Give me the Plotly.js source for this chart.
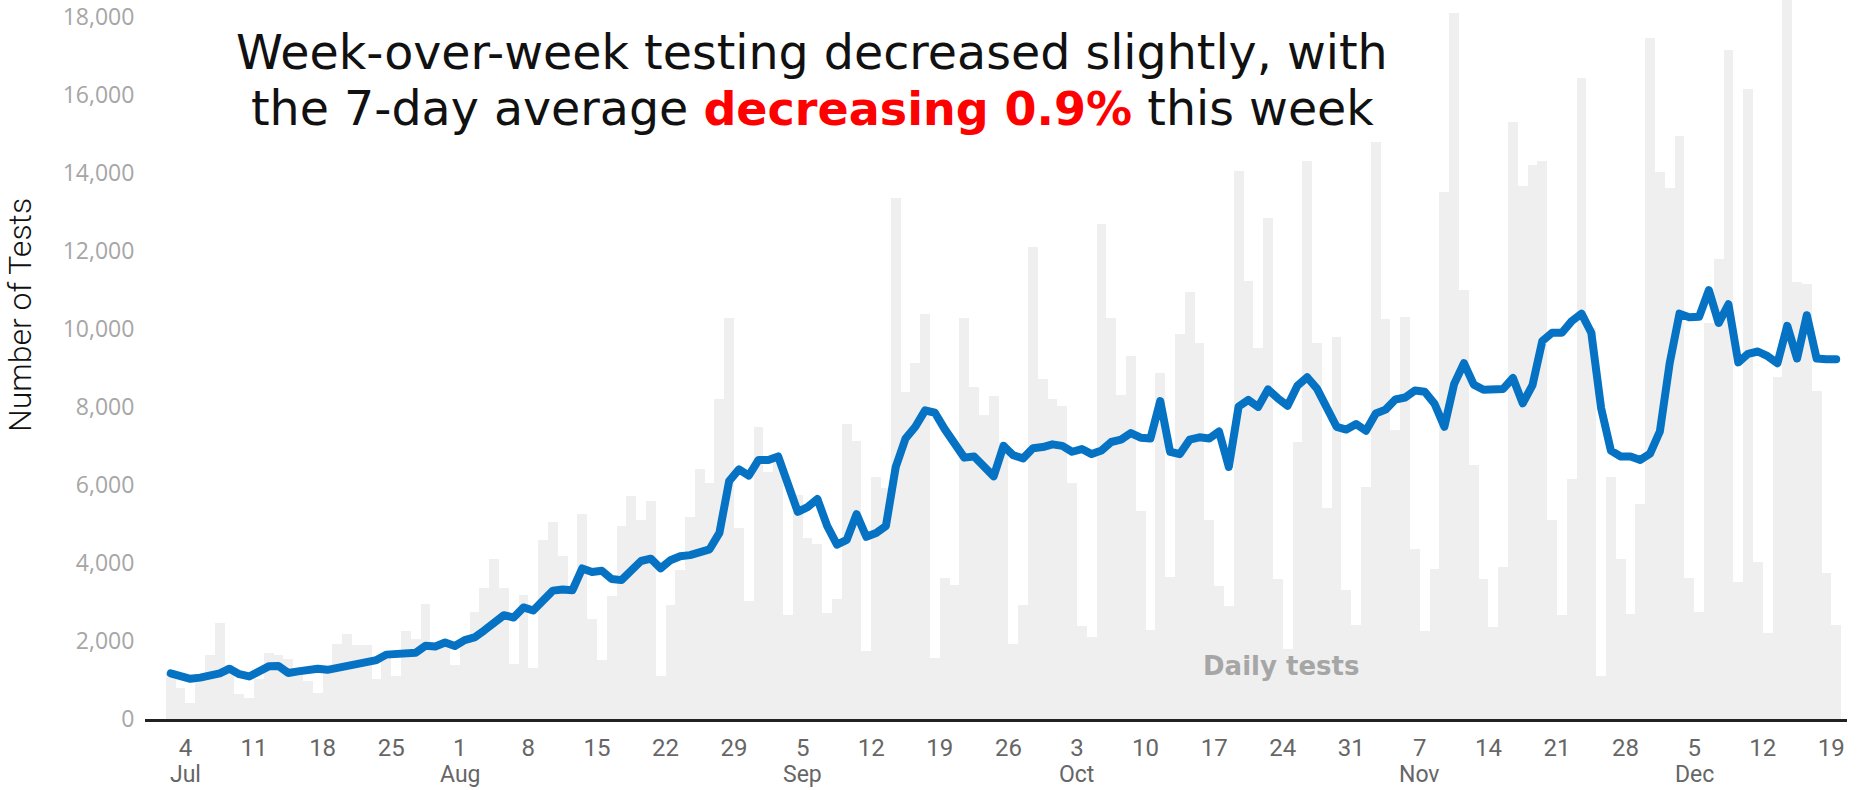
<!DOCTYPE html>
<html>
<head>
<meta charset="utf-8">
<script src="https://cdn.plot.ly/plotly-3.0.1.min.js"></script>
<style>
  html, body { margin: 0; padding: 0; background: #ffffff; }
  #chart { width: 1864px; height: 790px; }
</style>
</head>
<body>
<div id="chart"></div>
<script>
// ---- Data ----
// First day of the series; one value per consecutive day.
const startDate = [2020, 6, 2]; // 2 July 2020 (month is 0-based)

// Daily tests (grey bars)
const dailyTests = [
  1150, 790, 400, 1030, 1630, 2450, 1390, 640, 540, 1030,
  1690, 1630, 1530, 1210, 970, 660, 1270, 1930, 2170, 1900,
  1900, 1030, 1600, 1100, 2250, 2050, 2960, 1900, 1870, 1390,
  2000, 2740, 3350, 4100, 3350, 1420, 3170, 1300, 4600, 5050,
  4180, 3240, 5260, 2560, 1520, 3150, 4960, 5710, 5100, 5580,
  1100, 2920, 3830, 5180, 6400, 6040, 8210, 10270, 4890, 3020,
  7490, 6340, 6670, 2660, 5750, 4650, 4490, 2720, 3080, 7550,
  7130, 1750, 6200, 5920, 13350, 8390, 9120, 10390, 1570, 3620,
  3440, 10270, 8510, 7790, 8280, 7100, 1930, 2920, 12100, 8720,
  8200, 8020, 6050, 2380, 2100, 12700, 10280, 8300, 9300, 5320,
  2290, 8880, 3630, 9860, 10950, 9650, 5100, 3400, 2900, 14050,
  11230, 9500, 12840, 3600, 1800, 7100, 14300, 9650, 5400, 9800,
  3300, 2400, 5950, 14800, 10250, 7400, 10300, 4350, 2250, 3850,
  13500, 18100, 11000, 6500, 3600, 2350, 3900, 15300, 13650, 14200,
  14300, 5100, 2660, 6160, 16430, 10020, 1090, 6200, 4100, 2700,
  5520, 17450, 14010, 13600, 14950, 3620, 2750, 10150, 11800, 17150,
  3500, 16150, 4030, 2200, 8770, 19000, 11200, 11150, 8400, 3750,
  2400
];

// 7-day average (blue line)
const sevenDayAvg = [
  1170, 1100, 1030, 1060, 1100, 1170, 1290, 1150, 1090, 1240,
  1350, 1360, 1180, 1220, 1260, 1290, 1260, 1320, 1380, 1430,
  1470, 1510, 1650, 1680, 1710, 1700, 1880, 1860, 1960, 1870,
  2020, 2090, 2270, 2460, 2660, 2600, 2860, 2780, 3060, 3290,
  3320, 3300, 3860, 3770, 3800, 3590, 3560, 3780, 4050, 4110,
  3860, 4070, 4170, 4200, 4250, 4350, 4770, 6100, 6400, 6240,
  6640, 6640, 6730, 5950, 5310, 5430, 5640, 4950, 4470, 4590,
  5250, 4670, 4770, 4950, 6460, 7190, 7490, 7910, 7850, 7430,
  7070, 6700, 6730, 6450, 6220, 7000, 6760, 6680, 6940, 6970,
  7040, 7000, 6850, 6920, 6790, 6880, 7100, 7160, 7330, 7210,
  7190, 8150, 6850, 6790, 7160, 7220, 7190, 7370, 6460, 8010,
  8180, 8000, 8450, 8220, 8030, 8540, 8760, 8470, 7920, 7490,
  7420, 7560, 7390, 7830, 7930, 8190, 8240, 8420, 8390, 8080,
  7490, 8590, 9120, 8570, 8440, 8450, 8460, 8740, 8090, 8560,
  9690, 9900, 9900, 10200, 10390, 9900, 7970, 6880, 6730, 6730,
  6640, 6800, 7370, 9120, 10390, 10300, 10310, 10990, 10150, 10630,
  9140, 9360, 9420, 9300, 9120, 10080, 9240, 10350, 9240, 9220,
  9220
];

// X-axis ticks (day numbers) and month labels
const tickDates = [
  '2020-07-04', '2020-07-11', '2020-07-18', '2020-07-25',
  '2020-08-01', '2020-08-08', '2020-08-15', '2020-08-22', '2020-08-29',
  '2020-09-05', '2020-09-12', '2020-09-19', '2020-09-26',
  '2020-10-03', '2020-10-10', '2020-10-17', '2020-10-24', '2020-10-31',
  '2020-11-07', '2020-11-14', '2020-11-21', '2020-11-28',
  '2020-12-05', '2020-12-12', '2020-12-19'
];
const tickLabels = [
  '4', '11', '18', '25', '1', '8', '15', '22', '29', '5', '12', '19', '26',
  '3', '10', '17', '24', '31', '7', '14', '21', '28', '5', '12', '19'
];
const monthDates = ['2020-07-04', '2020-08-01', '2020-09-05', '2020-10-03', '2020-11-07', '2020-12-05'];
const monthLabels = ['Jul', 'Aug', 'Sep', 'Oct', 'Nov', 'Dec'];

// Y-axis ticks
const yTicks = [0, 2000, 4000, 6000, 8000, 10000, 12000, 14000, 16000, 18000];

// ---- Build the day categories (each bar centred at noon of its day) ----
function pad(n) { return (n < 10 ? '0' : '') + n; }
function dayString(offset, hour) {
  const d = new Date(Date.UTC(startDate[0], startDate[1], startDate[2] + offset, hour, 0));
  return d.getUTCFullYear() + '-' + pad(d.getUTCMonth() + 1) + '-' + pad(d.getUTCDate()) +
         ' ' + pad(d.getUTCHours()) + ':' + pad(d.getUTCMinutes());
}
const days = dailyTests.map((_, i) => dayString(i, 12));
const xStart = '2020-06-29 20:53';
const xEnd = '2020-12-20 14:24';

const traces = [
  {
    type: 'bar',
    x: days,
    y: dailyTests,
    marker: { color: '#efefef', line: { width: 0 } },
    hoverinfo: 'x+y',
    name: 'Daily tests'
  },
  {
    type: 'scatter',
    mode: 'lines',
    x: days,
    y: sevenDayAvg,
    line: { color: '#0572c4', width: 8 },
    hoverinfo: 'x+y',
    name: '7-day average'
  }
];

const monthAnnotations = monthDates.map((d, i) => ({
  x: d, xref: 'x', y: 0, yref: 'paper',
  yshift: -41, yanchor: 'top', xanchor: 'center',
  text: monthLabels[i], showarrow: false, borderpad: 0,
  font: { family: 'Liberation Sans Narrow, Roboto, sans-serif', size: 23, color: '#666666' }
}));

const layout = {
  width: 1864,
  height: 790,
  margin: { l: 145, r: 17, t: 0, b: 71, pad: 0 },
  paper_bgcolor: '#ffffff',
  plot_bgcolor: '#ffffff',
  showlegend: false,
  bargap: 0,
  xaxis: {
    type: 'date',
    range: [xStart, xEnd],
    tickmode: 'array',
    tickvals: tickDates,
    ticktext: tickLabels,
    ticks: 'outside',
    ticklen: 6,
    tickcolor: 'rgba(0,0,0,0)',
    showgrid: false,
    zeroline: false,
    showline: true,
    linecolor: '#222222',
    linewidth: 2.5,
    tickfont: { family: 'Liberation Sans Narrow, Roboto, sans-serif', size: 24, color: '#666666' },
    fixedrange: true
  },
  yaxis: {
    range: [0, 18430],
    tickmode: 'array',
    tickvals: yTicks,
    tickformat: ',d',
    ticks: 'outside',
    ticklen: 5,
    tickcolor: 'rgba(0,0,0,0)',
    ticklabeloverflow: 'allow',
    showgrid: false,
    zeroline: false,
    showline: false,
    tickfont: { family: 'Open Sans, sans-serif', size: 23, color: '#a6a6a6' },
    fixedrange: true
  },
  annotations: [
    {
      x: 0.392, xref: 'paper', y: 0.9268, yref: 'paper',
      xanchor: 'center', yanchor: 'middle', showarrow: false,
      text: 'Week-over-week testing decreased slightly, with',
      font: { family: 'DejaVu Sans, sans-serif', size: 47.5, color: '#111111' }
    },
    {
      x: 0.392, xref: 'paper', y: 0.8489, yref: 'paper',
      xanchor: 'center', yanchor: 'middle', showarrow: false,
      text: 'the 7-day average <b><span style="color:#ff0000;font-size:46px">decreasing 0.9%</span></b> this week',
      font: { family: 'DejaVu Sans, sans-serif', size: 47.5, color: '#111111' }
    },
    {
      x: 0.6675, xref: 'paper', y: 0.0737, yref: 'paper',
      xanchor: 'center', yanchor: 'middle', showarrow: false,
      text: '<b>Daily tests</b>',
      font: { family: 'DejaVu Sans, sans-serif', size: 26, color: '#a6a6a6' }
    },
    {
      x: -0.0734, xref: 'paper', y: 0.562, yref: 'paper',
      xanchor: 'center', yanchor: 'middle', showarrow: false,
      textangle: -90,
      text: 'Number of Tests',
      font: { family: 'Roboto, sans-serif', size: 32, weight: 300, color: '#111111' }
    }
  ].concat(monthAnnotations)
};

Plotly.newPlot('chart', traces, layout, { displayModeBar: false, staticPlot: true }).then(() => {
  document.querySelectorAll('.scatterlayer .js-line').forEach(p => {
    p.style.strokeLinecap = 'round';
    p.style.strokeLinejoin = 'round';
  });
});
</script>
</body>
</html>
